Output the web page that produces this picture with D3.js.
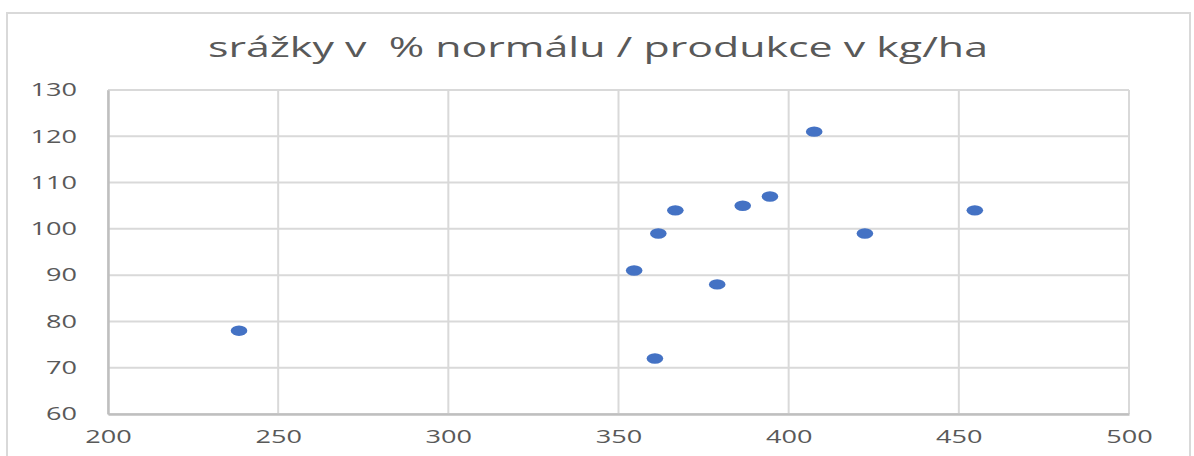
<!DOCTYPE html>
<html>
<head>
<meta charset="utf-8">
<script src="https://cdn.jsdelivr.net/npm/d3@7"></script>
<style>
  body { margin: 0; background: #fff; }
  svg { display: block; }
</style>
</head>
<body>
<div id="chart"></div>
<script>
// chart data
var title = "srážky v  % normálu / produkce v kg/ha";
var produkce = [238.5, 354.6, 360.7, 361.7, 366.7, 379, 386.5, 394.5, 407.5, 422.4, 454.7];
var srazky = [78, 91, 72, 99, 104, 88, 105, 107, 121, 99, 104];
var xTicks = [200, 250, 300, 350, 400, 450, 500];
var yTicks = [60, 70, 80, 90, 100, 110, 120, 130];

var width = 1194, height = 456;
var plot = { left: 108, right: 1129, top: 90, bottom: 414 };
var textColor = "#595959";

var svg = d3.select("#chart")
            .append("svg")
            .attr("width", width)
            .attr("height", height);

// outer chart frame
svg.append("rect")
   .attr("x", 7).attr("y", 13)
   .attr("width", 1183).attr("height", 460)
   .attr("fill", "#fff")
   .attr("stroke", "#d9d9d9")
   .attr("stroke-width", 2);

var x = d3.scaleLinear().domain([200, 500]).range([plot.left, plot.right]);
var y = d3.scaleLinear().domain([60, 130]).range([plot.bottom, plot.top]);

// gridlines
svg.append("g")
   .selectAll("line.h")
   .data(yTicks)
   .enter()
   .append("line")
   .attr("x1", plot.left).attr("x2", plot.right)
   .attr("y1", function(d){ return y(d); })
   .attr("y2", function(d){ return y(d); })
   .attr("stroke", "#d9d9d9")
   .attr("stroke-width", 2);

svg.append("g")
   .selectAll("line.v")
   .data(xTicks)
   .enter()
   .append("line")
   .attr("x1", function(d){ return x(d); })
   .attr("x2", function(d){ return x(d); })
   .attr("y1", plot.top).attr("y2", plot.bottom)
   .attr("stroke", "#d9d9d9")
   .attr("stroke-width", 2);

// axes
var xAxis = svg.append("g")
   .attr("transform", "translate(0," + plot.bottom + ")")
   .call(d3.axisBottom(x).tickValues(xTicks).tickSize(0).tickPadding(16).tickFormat(d3.format("d")));

var yAxis = svg.append("g")
   .attr("transform", "translate(" + plot.left + ",0)")
   .call(d3.axisLeft(y).tickValues(yTicks).tickSize(0).tickPadding(31).tickFormat(d3.format("d")));

[xAxis, yAxis].forEach(function(ax){
  ax.select(".domain").attr("stroke", "#bfbfbf").attr("stroke-width", 2.5);
  ax.selectAll("text")
    .attr("fill", textColor)
    .attr("font-family", "'Open Sans', sans-serif")
    .attr("font-size", 18)
    .attr("textLength", function(d){ return String(d).length * 15.5; })
    .attr("lengthAdjust", "spacingAndGlyphs");
});

// title
svg.append("text")
   .attr("x", 598)
   .attr("y", 57)
   .attr("text-anchor", "middle")
   .attr("fill", textColor)
   .attr("font-family", "'Open Sans', sans-serif")
   .attr("font-size", 28)
   .attr("textLength", 780)
   .attr("lengthAdjust", "spacingAndGlyphs")
   .style("white-space", "pre")
   .text(title);

// points
svg.append("g")
   .selectAll("ellipse")
   .data(produkce)
   .enter()
   .append("ellipse")
   .attr("cx", function(d){ return x(d); })
   .attr("cy", function(d, i){ return y(srazky[i]); })
   .attr("rx", 8.3)
   .attr("ry", 5.2)
   .attr("fill", "#4472c4");
</script>
</body>
</html>
